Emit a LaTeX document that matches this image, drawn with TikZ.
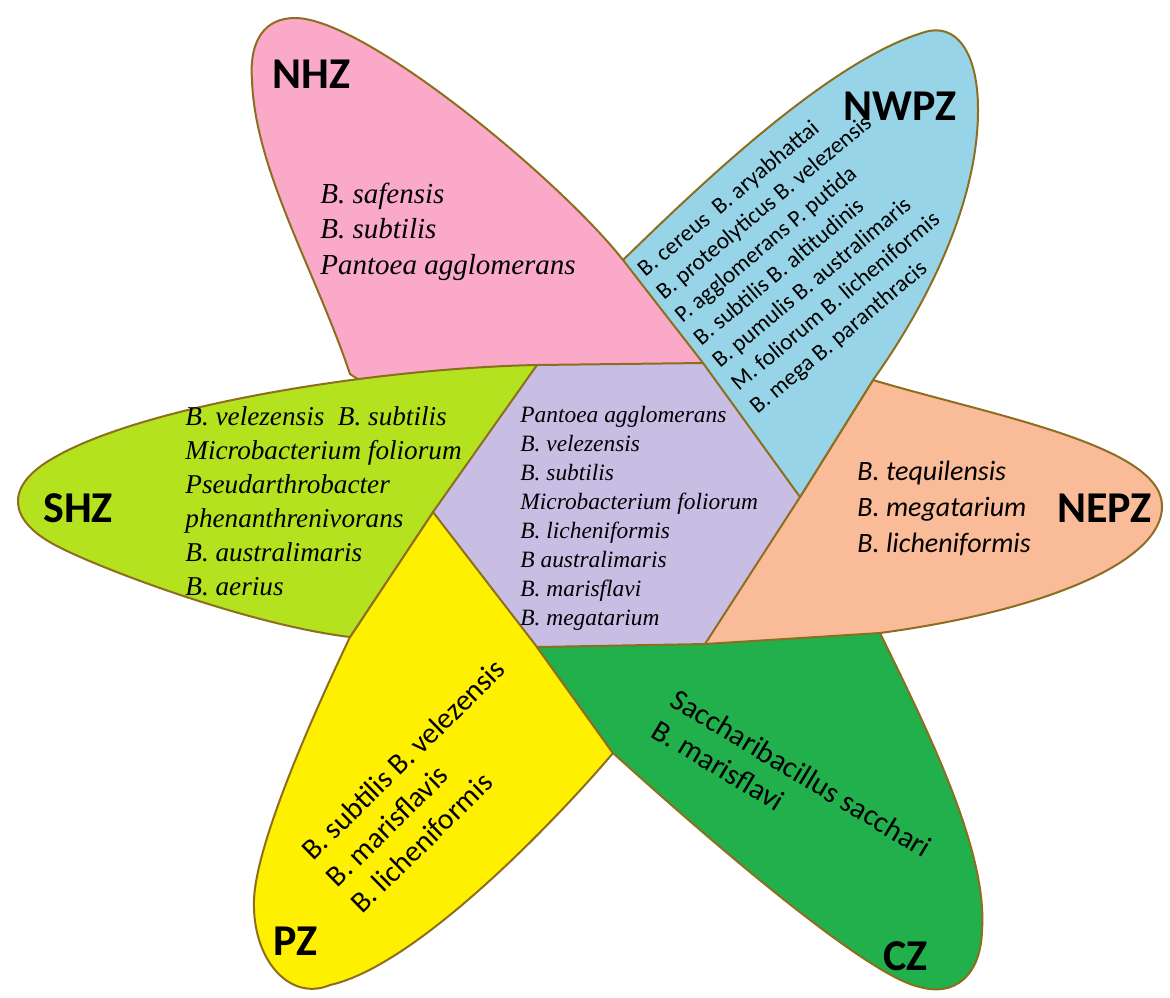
\documentclass[tikz,border=0pt]{standalone}
\usepackage{fontspec}
\newfontfamily\carlito{Carlito}
\newfontfamily\libserif{Liberation Serif}

\definecolor{pinkNHZ}{RGB}{250,170,200}
\definecolor{blueNWPZ}{RGB}{152,212,232}
\definecolor{greenSHZ}{RGB}{180,226,30}
\definecolor{yellowPZ}{RGB}{255,240,0}
\definecolor{greenCZ}{RGB}{34,176,76}
\definecolor{orangeNEPZ}{RGB}{250,187,152}
\definecolor{purpleMid}{RGB}{200,190,228}
\definecolor{edgeBrown}{RGB}{140,110,30}

\tikzset{
  petal/.style={draw=edgeBrown, line width=1pt, line join=round},
  zonename/.style={font=\carlito\bfseries\fontsize{22}{26}\selectfont, anchor=base west, inner sep=0pt},
  serifsp/.style={font=\libserif\itshape\fontsize{#1}{#1}\selectfont, anchor=base west, inner sep=0pt},
  sanssp/.style={font=\carlito\fontsize{#1}{#1}\selectfont, anchor=base west, inner sep=0pt},
  sansit/.style={font=\carlito\itshape\fontsize{#1}{#1}\selectfont, anchor=base west, inner sep=0pt},
}

\begin{document}
\begin{tikzpicture}[x=0.5pt, y=-0.5pt]
            \fill[white] (0,0) rectangle (1170,997);
            \useasboundingbox (0,0) rectangle (1170,997);

            % Đỉnh lục giác và các điểm nối
            \coordinate (M) at (618,505);
            \coordinate (TL) at (537,365);
            \coordinate (TR) at (703,363);
            \coordinate (R) at (800,497);
            \coordinate (BR) at (705,644);
            \coordinate (BL) at (537,647);
            \coordinate (L) at (433,512);
            \coordinate (P1) at (350,374);
            \coordinate (Q1) at (623,260);
            \coordinate (O1) at (873,380);
            \coordinate (C1) at (880,633);
            \coordinate (Y1) at (613,753);
            \coordinate (S1) at (350,637);

            % Cánh PZ
            \filldraw[petal, fill=yellowPZ] (M) -- (L) -- (S1) .. controls (320,700) and (256,840) .. (254,900)
                .. controls (252,960) and (290,1002) .. (330,985) .. controls (420,965) and (565,810) .. (Y1) -- (BL) -- cycle;
            % Cánh CZ
            \filldraw[petal, fill=greenCZ] (M) -- (BL) -- (Y1) .. controls (665,800) and (860,975) .. (920,987)
                .. controls (955,997) and (981,975) .. (982,930) .. controls (988,850) and (925,725) .. (C1) -- (820,600) -- cycle;
            % Cánh NEPZ
            \filldraw[petal, fill=orangeNEPZ] (M) -- (R) -- (O1) .. controls (990,415) and (1160,445) .. (1162,505)
                .. controls (1164,560) and (1050,610) .. (C1) -- (BR) -- cycle;
            % Cánh NWPZ
            \filldraw[petal, fill=blueNWPZ] (M) -- (585,330) -- (Q1) .. controls (700,185) and (830,60) .. (925,32)
                .. controls (955,23) and (978,50) .. (978,110) .. controls (978,200) and (930,300) .. (O1) -- (R) -- cycle;
            % Cánh NHZ
            \filldraw[petal, fill=pinkNHZ] (M) -- (420,420) -- (P1) .. controls (315,270) and (255,170) .. (252,80)
                .. controls (249,40) and (265,18) .. (295,18) .. controls (365,18) and (560,180) .. (Q1) -- (TR) -- cycle;
            % Cánh SHZ
            \filldraw[petal, fill=greenSHZ] (M) -- (TL) .. controls (380,368) and (140,405) .. (50,460)
                .. controls (5,487) and (8,520) .. (55,545) .. controls (100,569) and (250,625) .. (S1) -- (L) -- cycle;
            % Lục giác giữa
            \filldraw[petal, fill=purpleMid] (TL) -- (TR) -- (R) -- (BR) -- (BL) -- (L) -- cycle;

            % Tên vùng
            \node[zonename] (nhz) at (272,88) {NHZ};
            \node[zonename] (nwpz) at (843,120) {NWPZ};
            \node[zonename] (shz) at (43,522) {SHZ};
            \node[zonename] (nepz) at (1057,522) {NEPZ};
            \node[zonename] (pz) at (273,955) {PZ};
            \node[zonename] (cz) at (883,970) {CZ};

            % Danh sách loài
            \foreach \sp [count=\i] in {B. safensis, B. subtilis, Pantoea agglomerans}
                \node[serifsp=14.5] (nhz\i) at (320,{203+35.5*(\i-1)}) {\sp};
            \foreach \sp [count=\i] in {B. velezensis\ \ B. subtilis, Microbacterium foliorum, Pseudarthrobacter, phenanthrenivorans, B. australimaris, B. aerius}
                \node[serifsp=13.6] (shz\i) at (185,{425+34*(\i-1)}) {\sp};
            \foreach \sp [count=\i] in {Pantoea agglomerans, B. velezensis, B. subtilis, Microbacterium foliorum, B. licheniformis, B australimaris, B. marisflavi, B. megatarium}
                \node[serifsp=11.7] (mid\i) at (520,{422+29*(\i-1)}) {\sp};
            \foreach \sp [count=\i] in {B. tequilensis, B. megatarium, B. licheniformis}
                \node[sansit=14] (nepz\i) at (857,{480+36*(\i-1)}) {\sp};
            \foreach \sp [count=\i] in {B. cereus\ \ B. aryabhattai, B. proteolyticus B. velezensis, P. agglomerans P. putida, B. subtilis B. altitudinis, B. pumulis B. australimaris, M. foliorum B. licheniformis, B. mega B. paranthracis}
                \node[sanssp=11.7, rotate=40] (nwpz\i) at ({645+18.7*(\i-1)},{278+22.8*(\i-1)}) {\sp};
            \foreach \sp [count=\i] in {B. subtilis B. velezensis, B. marisflavis, B. licheniformis}
                \node[sanssp=14.8, rotate=44.5] (pz\i) at ({313+24.5*(\i-1)},{862+26.5*(\i-1)}) {\sp};
            \foreach \sp [count=\i] in {Saccharibacillus sacchari, B. marisflavi}
                \node[sanssp=15, rotate=-31] (cz\i) at ({668-18.5*(\i-1)},{705+30.8*(\i-1)}) {\sp};
        \end{tikzpicture}
\end{document}
